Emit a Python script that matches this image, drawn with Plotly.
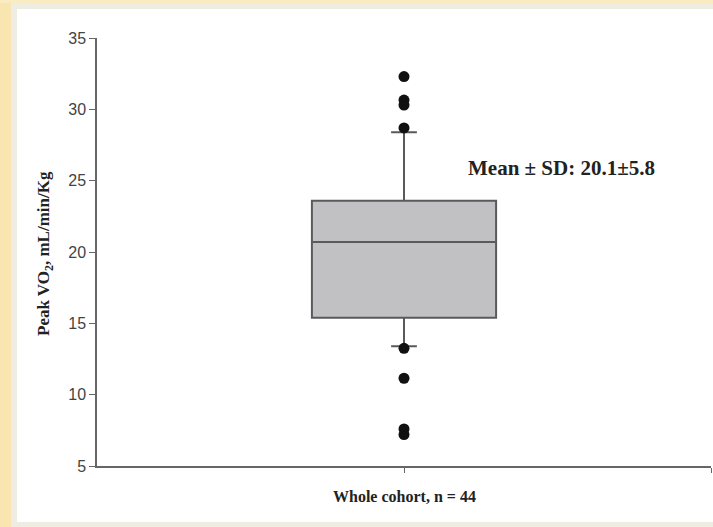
import plotly.graph_objects as go

# ---- data ----
group_label = "Whole cohort, n = 44"
q1 = [15.4]
median = [20.7]
q3 = [23.6]
lower_fence = [13.4]
upper_fence = [28.4]
outliers = [32.3, 30.65, 30.3, 28.7, 13.25, 11.15, 7.6, 7.2]
y_ticks = [5, 10, 15, 20, 25, 30, 35]
stat_text = "Mean ± SD: 20.1±5.8"

W, H = 713, 527
L, R, T, B = 97, 2, 38, 61
pw, ph = W - L - R, H - T - B

def px2x(px):
    return (px - L) / pw

def py2y(py):
    return 1 - (py - T) / ph

fig = go.Figure()
fig.add_trace(go.Box(
    x=[1], q1=q1, median=median, q3=q3,
    lowerfence=lower_fence, upperfence=upper_fence,
    width=0.6, whiskerwidth=0.14, boxpoints=False,
    fillcolor="#c1c1c3", line=dict(color="#5a5a5a", width=2),
    hoverinfo="skip",
))
fig.add_trace(go.Scatter(
    x=[1] * len(outliers), y=outliers, mode="markers",
    marker=dict(size=11, color="#111111"), hoverinfo="skip",
))

shapes = [
    dict(type="rect", xref="paper", yref="paper", x0=px2x(0), x1=px2x(W), y0=py2y(0), y1=py2y(H),
         fillcolor="#efece2", line=dict(width=0), layer="below"),
    dict(type="rect", xref="paper", yref="paper", x0=px2x(17), x1=px2x(W), y0=py2y(9), y1=py2y(522),
         fillcolor="#ffffff", line=dict(width=0), layer="below"),
    dict(type="rect", xref="paper", yref="paper", x0=px2x(0), x1=px2x(11), y0=py2y(0), y1=py2y(H),
         fillcolor="#f8e5b0", line=dict(width=0), layer="below"),
    dict(type="rect", xref="paper", yref="paper", x0=px2x(0), x1=px2x(W), y0=py2y(0), y1=py2y(3),
         fillcolor="#faecc2", line=dict(width=0), layer="below"),
]

annotations = [
    dict(text="<b>" + stat_text + "</b>", x=1.514, y=25.9, xref="x", yref="y",
         xanchor="center", yanchor="middle",
         showarrow=False, font=dict(family="Liberation Serif", size=21, color="#222222")),
    dict(text="<b>" + group_label + "</b>", x=1, y=py2y(496), xref="x", yref="paper",
         xanchor="center", yanchor="middle",
         showarrow=False, font=dict(family="Liberation Serif", size=16, color="#222222")),
    dict(text="<b>Peak VO<sub>2</sub>, mL/min/Kg</b>", x=px2x(45), y=py2y(254), xref="paper", yref="paper",
         xanchor="center", yanchor="middle",
         showarrow=False, textangle=-90, font=dict(family="Liberation Serif", size=17, color="#222222")),
]

fig.update_layout(
    width=W, height=H,
    margin=dict(l=L, r=R, t=T, b=B),
    paper_bgcolor="#ffffff", plot_bgcolor="rgba(0,0,0,0)",
    showlegend=False, hovermode=False,
    shapes=shapes, annotations=annotations,
    xaxis=dict(range=[0, 2], tickvals=[1, 2], showticklabels=False, ticks="outside", ticklen=5,
               tickcolor="#666666", showline=True, linecolor="#666666", linewidth=1.5,
               showgrid=False, zeroline=False, fixedrange=True),
    yaxis=dict(range=[5, 35], tickvals=y_ticks, ticks="outside", ticklen=6,
               tickcolor="#666666", showline=True, linecolor="#666666", linewidth=1.5,
               showgrid=False, zeroline=False, fixedrange=True,
               tickfont=dict(family="Liberation Sans", size=16, color="#444444")),
)

fig.write_html("out.html", config={"displayModeBar": False},
               post_script="document.body.style.margin='0';document.body.style.overflow='hidden';")
